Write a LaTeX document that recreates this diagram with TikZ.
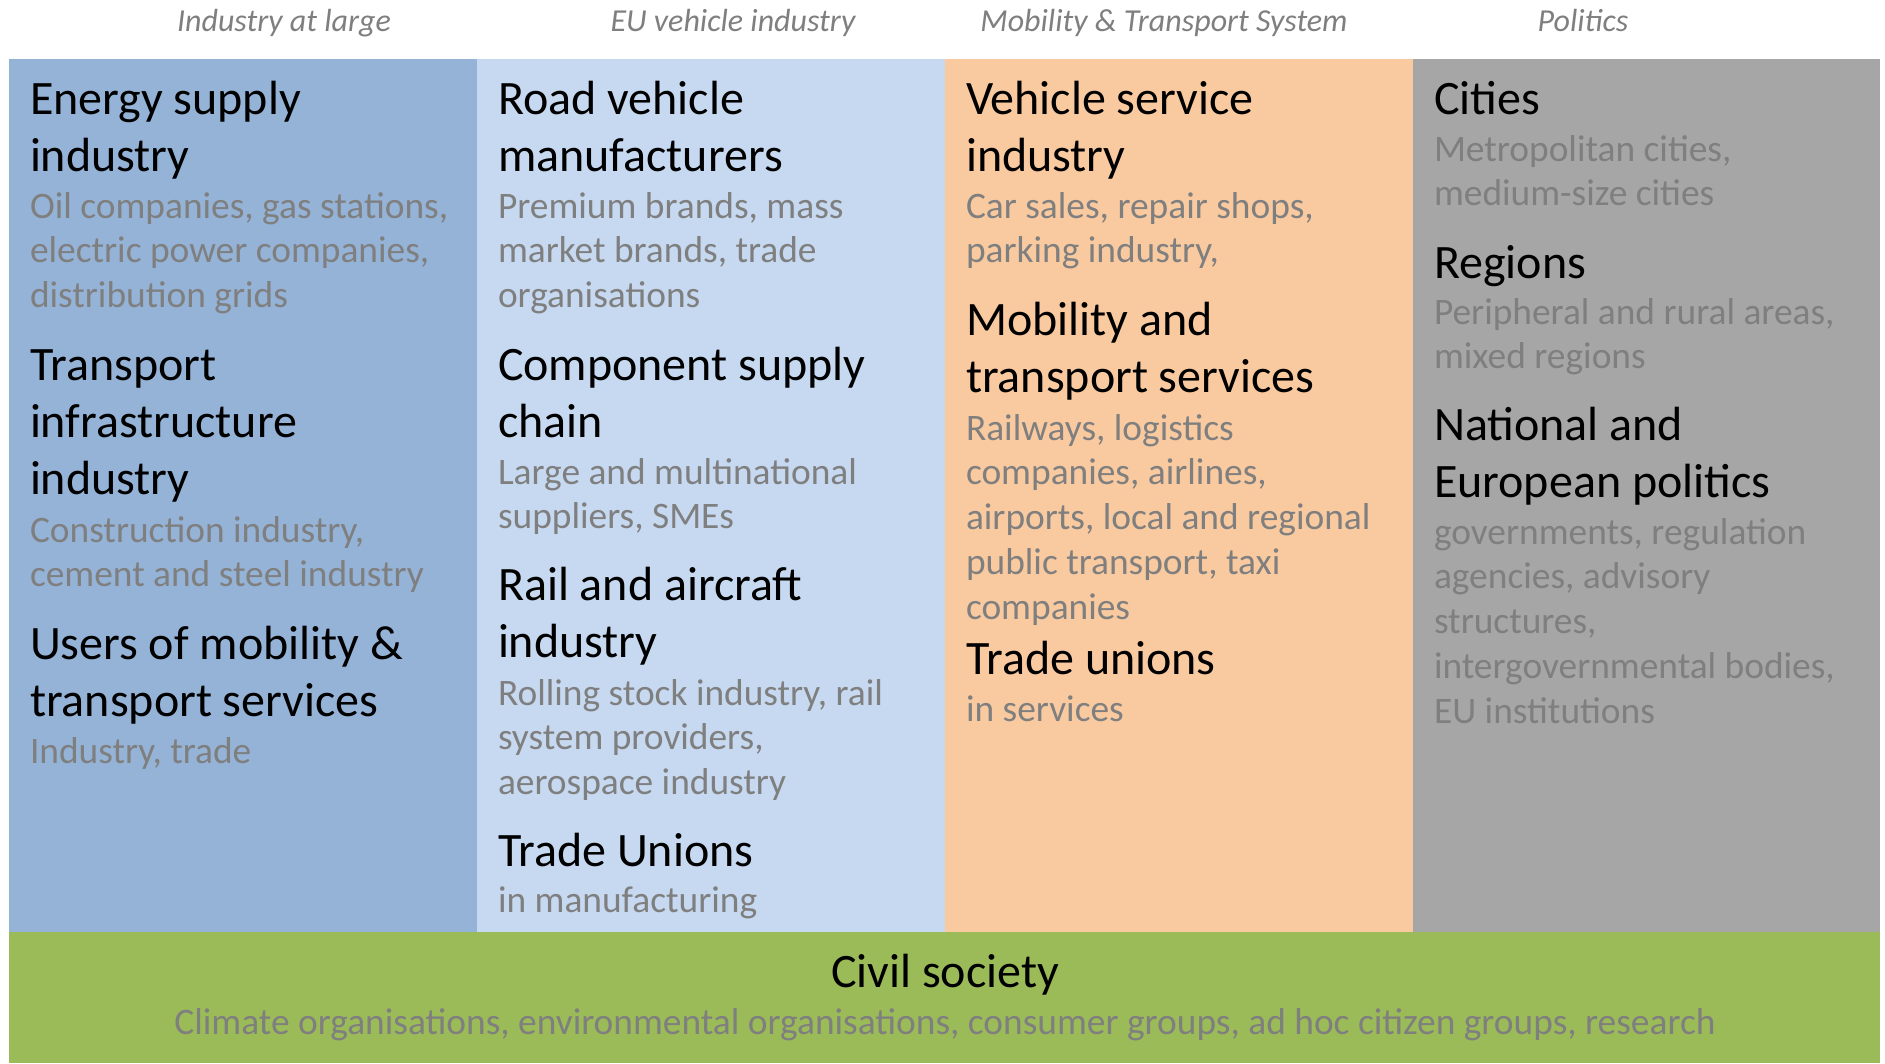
\documentclass[tikz,border=0pt]{standalone}
\usepackage{fontspec}
\setmainfont{Carlito}
\definecolor{cblue}{HTML}{95B3D7}
\definecolor{clblue}{HTML}{C6D9F0}
\definecolor{corange}{HTML}{F9CAA0}
\definecolor{cgray}{HTML}{A6A6A6}
\definecolor{cgreen}{HTML}{9BBB59}
\definecolor{subgray}{HTML}{7F7F7F}
\newcommand\txtlines[6]{%
  \foreach \t [count=\i from 0] in {#6}
    \node[#2] (#1\i) at (#3,{#4+#5*\i}) {\t};}
\begin{document}
\begin{tikzpicture}[x=1pt,y=-1pt,
  every node/.style={inner sep=0pt,outer sep=0pt},
  ttl/.style={anchor=base west,font=\fontsize{48}{57}\selectfont,text=black},
  subt/.style={anchor=base west,font=\fontsize{37.4}{45}\selectfont,text=subgray},
  hdr/.style={anchor=base,font=\fontsize{32}{38}\selectfont\itshape,text=subgray}]
\useasboundingbox[fill=white] (0,0) rectangle (1885,1063);
% panels
\fill[cblue]   (9,59) rectangle (477,932);
\fill[clblue]  (477,59) rectangle (945,932);
\fill[corange] (945,59) rectangle (1413,932);
\fill[cgray]   (1413,59) rectangle (1880,932);
\fill[cgreen]  (9,932) rectangle (1880,1063);
% headers
\node[hdr] (h1) at (284,31) {Industry at large};
\node[hdr] (h2) at (733,31) {EU vehicle industry};
\node[hdr] (h3) at (1164,31) {Mobility \& Transport System};
\node[hdr] (h4) at (1583,31) {Politics};
% column 1
\txtlines{aT}{ttl}{30}{114}{57}{Energy supply,industry}
\txtlines{aS}{subt}{30}{218}{44.8}{{Oil companies, gas stations,},{electric power companies,},distribution grids}
\txtlines{bT}{ttl}{30}{380}{57}{Transport,infrastructure,industry}
\txtlines{bS}{subt}{30}{542}{44.8}{{Construction industry,},cement and steel industry}
\txtlines{cT}{ttl}{30}{659}{57}{Users of mobility \&,transport services}
\txtlines{cS}{subt}{30}{763}{44.8}{{Industry, trade}}
% column 2
\txtlines{dT}{ttl}{498}{114}{57}{Road vehicle,manufacturers}
\txtlines{dS}{subt}{498}{218}{44.8}{{Premium brands, mass},{market brands, trade},organisations}
\txtlines{eT}{ttl}{498}{380}{57}{Component supply,chain}
\txtlines{eS}{subt}{498}{484}{44.8}{Large and multinational,{suppliers, SMEs}}
\txtlines{fT}{ttl}{498}{600}{57}{Rail and aircraft,industry}
\txtlines{fS}{subt}{498}{705}{44.8}{{Rolling stock industry, rail},{system providers,},aerospace industry}
\txtlines{gT}{ttl}{498}{866}{57}{Trade Unions}
\txtlines{gS}{subt}{498}{912}{44.8}{in manufacturing}
% column 3
\txtlines{hT}{ttl}{966}{114}{57}{Vehicle service,industry}
\txtlines{hS}{subt}{966}{218}{44.8}{{Car sales, repair shops,},{parking industry,}}
\txtlines{iT}{ttl}{966}{335}{57}{Mobility and,transport services}
\txtlines{iS}{subt}{966}{440}{44.8}{{Railways, logistics},{companies, airlines,},{airports, local and regional},{public transport, taxi},companies}
\txtlines{jT}{ttl}{966}{674}{57}{Trade unions}
\txtlines{jS}{subt}{966}{721}{44.8}{in services}
% column 4
\txtlines{kT}{ttl}{1434}{114}{57}{Cities}
\txtlines{kS}{subt}{1434}{161}{44.8}{{Metropolitan cities,},medium-size cities}
\txtlines{lT}{ttl}{1434}{278}{57}{Regions}
\txtlines{lS}{subt}{1434}{324}{44.8}{{Peripheral and rural areas,},mixed regions}
\txtlines{mT}{ttl}{1434}{440}{57}{National and,European politics}
\txtlines{mS}{subt}{1434}{544}{44.8}{{governments, regulation},{agencies, advisory},{structures,},{intergovernmental bodies,},EU institutions}
% civil society
\node[anchor=base,font=\fontsize{48}{57}\selectfont] (civ) at (945,987) {Civil society};
\node[anchor=base,font=\fontsize{37.4}{45}\selectfont,text=subgray] (civs) at (945,1034) {Climate organisations, environmental organisations, consumer groups, ad hoc citizen groups, research};
\end{tikzpicture}
\end{document}
